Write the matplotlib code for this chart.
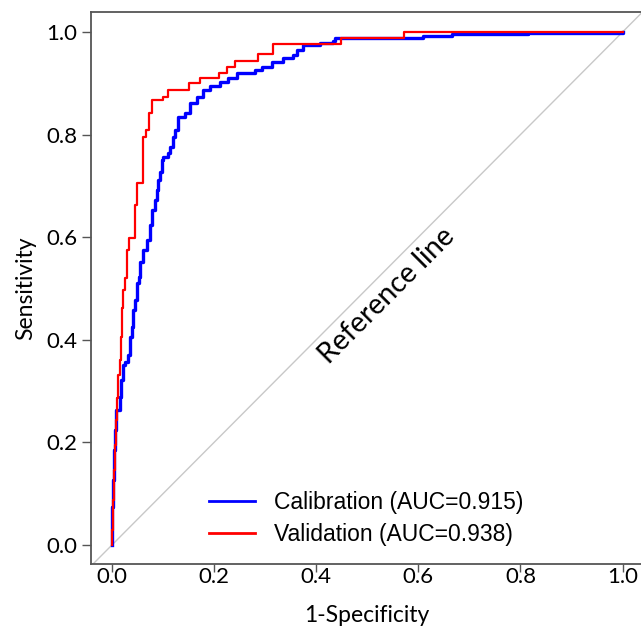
import matplotlib
matplotlib.use("Agg")
import matplotlib.pyplot as plt

# ROC points (fpr, tpr), staircase corners
cal_fpr = [0, 0, 0.002, 0.004, 0.006, 0.008, 0.016, 0.018, 0.022, 0.025, 0.031,
           0.035, 0.039, 0.041, 0.045, 0.049, 0.053, 0.055, 0.061, 0.068, 0.074,
           0.078, 0.084, 0.088, 0.090, 0.094, 0.098, 0.100, 0.110, 0.114, 0.119,
           0.123, 0.129, 0.143, 0.153, 0.166, 0.178, 0.192, 0.211, 0.227, 0.245,
           0.280, 0.294, 0.313, 0.335, 0.354, 0.362, 0.374, 0.407, 0.432, 0.436,
           0.609, 0.665, 0.814, 1.0]
cal_tpr = [0, 0.074, 0.127, 0.185, 0.224, 0.263, 0.288, 0.322, 0.351, 0.357, 0.370,
           0.405, 0.425, 0.458, 0.478, 0.511, 0.522, 0.552, 0.575, 0.595, 0.624,
           0.653, 0.673, 0.692, 0.712, 0.727, 0.750, 0.756, 0.764, 0.776, 0.795,
           0.809, 0.834, 0.842, 0.862, 0.873, 0.887, 0.895, 0.903, 0.910, 0.920,
           0.926, 0.932, 0.942, 0.949, 0.955, 0.965, 0.975, 0.979, 0.982, 0.988,
           0.992, 0.996, 0.998, 1.0]

val_fpr = [0, 0, 0.002, 0.004, 0.006, 0.008, 0.010, 0.012, 0.016, 0.018, 0.020,
           0.022, 0.025, 0.029, 0.033, 0.045, 0.049, 0.060, 0.067, 0.072, 0.078,
           0.100, 0.110, 0.151, 0.172, 0.209, 0.225, 0.241, 0.286, 0.315, 0.448,
           0.571, 1.0]
val_tpr = [0, 0.029, 0.088, 0.146, 0.195, 0.244, 0.287, 0.331, 0.361, 0.405, 0.462,
           0.497, 0.520, 0.575, 0.598, 0.663, 0.706, 0.795, 0.809, 0.842, 0.867,
           0.873, 0.887, 0.901, 0.910, 0.920, 0.932, 0.943, 0.957, 0.977, 0.988,
           1.0, 1.0]

cal_label = "Calibration (AUC=0.915)"
val_label = "Validation (AUC=0.938)"
ticks = [0.0, 0.2, 0.4, 0.6, 0.8, 1.0]

fig = plt.figure(figsize=(6.41, 6.28), dpi=100)
ax = fig.add_axes([91 / 641, 64 / 628, 552 / 641, 552 / 628])

ax.axline((0, 0), (1, 1), color="#c8c8c8", lw=1.0, zorder=1)
ax.plot(cal_fpr, cal_tpr, drawstyle="steps-post", color="#0000ff", lw=2.4,
        label=cal_label, zorder=3)
ax.plot(val_fpr, val_tpr, drawstyle="steps-post", color="#ff0000", lw=1.6,
        label=val_label, zorder=4)

ax.text(0.538, 0.486, "Reference line", rotation=45, rotation_mode="anchor",
        ha="center", va="center", fontsize=20.5, family="Lato")

ax.set_xlim(-0.041, 1.04)
ax.set_ylim(-0.037, 1.039)
ax.set_xticks(ticks)
ax.set_yticks(ticks)
ax.set_xticklabels([f"{t:.1f}" for t in ticks], family="Lato", fontsize=16)
ax.set_yticklabels([f"{t:.1f}" for t in ticks], family="Lato", fontsize=16)
ax.tick_params(axis="x", direction="out", length=6, width=1, color="#555555", pad=-4)
ax.tick_params(axis="y", direction="out", length=6.5, width=1, color="#555555", pad=3.5)

for side in ["left", "bottom", "top", "right"]:
    ax.spines[side].set_color("#555555")
    ax.spines[side].set_linewidth(1.3)

ax.set_xlabel("1-Specificity", family="Lato", fontsize=16.5, labelpad=13)
ax.set_ylabel("Sensitivity", family="Lato", fontsize=16.5, labelpad=7)

leg_handles = [plt.Line2D([], [], color="#0000ff", lw=2),
               plt.Line2D([], [], color="#ff0000", lw=2)]
ax.legend(leg_handles, [cal_label, val_label], loc="lower left",
          bbox_to_anchor=(0.176, -0.005), frameon=False,
          prop={"family": "Liberation Sans", "size": 16.5},
          handlelength=2.0, handletextpad=0.85, labelspacing=0.39)

fig.savefig("out.png", dpi=100)
